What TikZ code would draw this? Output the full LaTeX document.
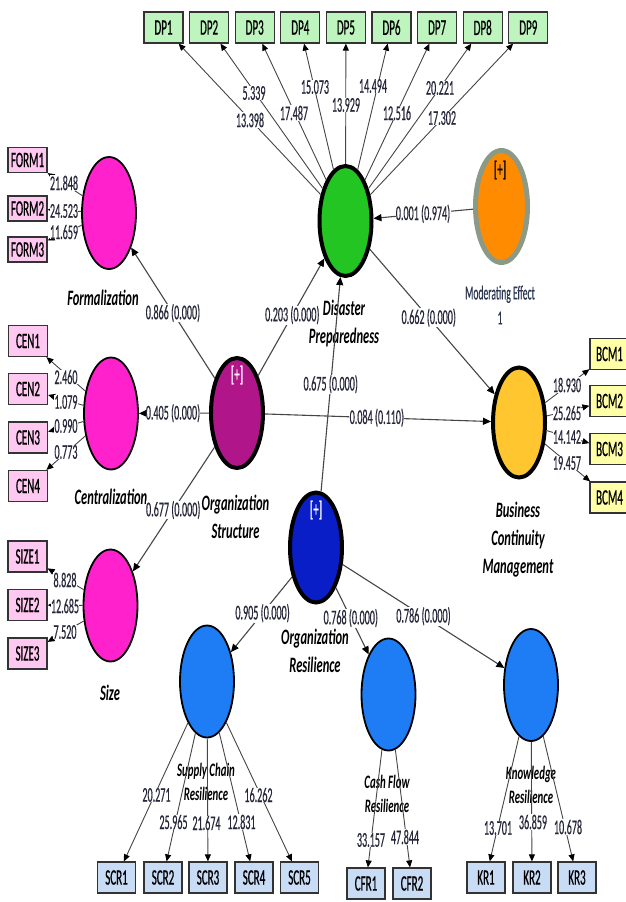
\documentclass[tikz,border=0pt]{standalone}
\usepackage{fontspec}
\usetikzlibrary{shapes.geometric,arrows.meta,calc}
\newfontfamily\lblfam{Carlito}[FakeStretch=0.48,FakeBold=0.4]
\newfontfamily\boxfam{Carlito}[FakeStretch=0.5,FakeBold=0.6]
\newfontfamily\namefam{Carlito}[FakeStretch=0.57]
\newcommand\lblf{\lblfam\fontsize{21}{23}\selectfont}
\newcommand\boxf{\boxfam\fontsize{22}{24}\selectfont}
\newcommand\namef{\namefam\bfseries\itshape\fontsize{22}{28}\selectfont}
\newcommand\smnamef{\namefam\bfseries\itshape\fontsize{19}{24}\selectfont}
\newcommand\modf{\lblfam\fontsize{20}{25}\selectfont}
\definecolor{dpgreen}{HTML}{22C522}
\definecolor{magen}{HTML}{FF22CC}
\definecolor{ospurp}{HTML}{B0168A}
\definecolor{orblue}{HTML}{0A1EC8}
\definecolor{modor}{HTML}{FF8C00}
\definecolor{modgray}{HTML}{8A9A86}
\definecolor{bcmyel}{HTML}{FFC630}
\definecolor{resblue}{HTML}{1E7DF5}
\definecolor{gbox}{HTML}{BEF5BE}
\definecolor{pbox}{HTML}{FFC8F0}
\definecolor{ybox}{HTML}{FFFFA8}
\definecolor{bbox}{HTML}{C8DCF5}
\definecolor{boxline}{HTML}{333333}
\definecolor{linec}{HTML}{454545}
\definecolor{lblc}{HTML}{26263A}
\definecolor{modtxt}{HTML}{2A3550}
\begin{document}
\begin{tikzpicture}[x=1pt,y=-1pt,
  lvthick/.style={ellipse, draw=black, line width=4pt, minimum width=52pt, minimum height=110pt, inner sep=0pt},
  lvthin/.style={ellipse, draw=black, line width=1.8pt, minimum width=54pt, minimum height=112pt, inner sep=0pt},
  ibox/.style={rectangle, draw=boxline, line width=1.2pt, minimum width=39pt, minimum height=31pt, inner sep=0pt, font=\boxf},
  lbl/.style={fill=white, inner sep=0.3pt, font=\lblf, text=lblc},
  cname/.style={font=\namef, text=black, inner sep=0pt, align=center},
  smname/.style={font=\smnamef, text=black, inner sep=0pt, align=center},
  plus/.style={font=\boxf, inner sep=0pt},
  arr/.style={draw=linec, line width=0.9pt, -{Triangle[length=7pt,width=6pt,color=black]}},
  parr/.style={draw=linec, line width=1.1pt, -{Triangle[length=8pt,width=7pt,color=black]}}
]
\useasboundingbox (0,0) rectangle (625,902);
% latent variables
\node[lvthick, fill=dpgreen] (dp) at (345.5,221) {};
\node[ellipse, draw=modgray, line width=5pt, fill=modor, minimum width=52pt, minimum height=112pt, inner sep=0pt] (mod) at (501.5,206.5) {};
\node[lvthin, fill=magen] (form) at (109,213) {};
\node[lvthin, fill=magen] (cen) at (111,413.5) {};
\node[lvthin, fill=magen] (size) at (110.5,605.5) {};
\node[lvthick, fill=ospurp] (os) at (237,413) {};
\node[lvthick, fill=orblue] (ores) at (316,547.5) {};
\node[lvthick, fill=bcmyel] (bcm) at (519,422.5) {};
\node[lvthin, fill=resblue] (scr) at (207,681.5) {};
\node[lvthin, fill=resblue] (cfr) at (388.5,694.5) {};
\node[lvthin, fill=resblue] (kr) at (531,685) {};
\node[plus, text=black] (modplus) at (500,170) {[+]};
\node[plus, text=white] (osplus) at (237,375) {[+]};
\node[plus, text=white] (orplus) at (316,510) {[+]};
% indicators
\foreach \i/\x in {1/163.5,2/209.1,3/254.7,4/300.3,5/345.9,6/391.5,7/437.1,8/482.7,9/528.3}
  \node[ibox, fill=gbox] (dp\i) at (\x,27.5) {DP\i};
\node[ibox, fill=pbox, minimum height=25pt] (form1) at (27.5,160) {FORM1};
\node[ibox, fill=pbox, minimum height=25pt] (form2) at (27.5,208.5) {FORM2};
\node[ibox, fill=pbox, minimum height=25pt] (form3) at (27.5,249.5) {FORM3};
\foreach \i/\y in {1/341,2/389,3/437.5,4/486}
  \node[ibox, fill=pbox] (cen\i) at (28,\y) {CEN\i};
\foreach \i/\y in {1/556.5,2/605,3/653.5}
  \node[ibox, fill=pbox] (size\i) at (27.5,\y) {SIZE\i};
\foreach \i/\y in {1/354,2/401,3/449,4/497.5}
  \node[ibox, fill=ybox] (bcm\i) at (609.5,\y) {BCM\i};
\foreach \i/\x in {1/116.5,2/163,3/208,4/254,5/299.5}
  \node[ibox, fill=bbox, minimum width=38pt] (scr\i) at (\x,877.5) {SCR\i};
\node[ibox, fill=bbox, minimum width=38pt] (cfr1) at (366,883.5) {CFR1};
\node[ibox, fill=bbox, minimum width=38pt] (cfr2) at (412,883.5) {CFR2};
\foreach \i/\x in {1/486,2/532,3/577}
  \node[ibox, fill=bbox, minimum width=38pt] (kr\i) at (\x,877.5) {KR\i};
% construct names
\node[cname] (nform) at (103,298) {Formalization};
\node[cname] (ncen) at (111,497) {Centralization};
\node[cname] (nsize) at (110,693) {Size};
\node[cname] (nos) at (235.5,516.5) {Organization\\Structure};
\node[cname] (ndp) at (344,324) {Disaster\\Preparedness};
\node[cname] (nbcm) at (518,540) {Business\\Continuity\\Management};
\node[cname] (nor) at (315,651) {Organization\\Resilience};
\node[smname] (nscr) at (206,782) {Supply Chain\\Resilience};
\node[smname] (ncfr) at (387,793.5) {Cash Flow\\Resilience};
\node[smname] (nkr) at (531,784.5) {Knowledge\\Resilience};
\node[font=\modf, text=modtxt, align=center, inner sep=0pt] (nmod) at (500,305) {Moderating Effect\\1};
% outer loadings
\foreach \i in {1,...,9} \draw[arr] (dp) -- (dp\i);
\foreach \i in {1,2,3} \draw[arr] (form) -- (form\i);
\foreach \i in {1,...,4} \draw[arr] (cen) -- (cen\i);
\foreach \i in {1,2,3} \draw[arr] (size) -- (size\i);
\foreach \i in {1,...,4} \draw[arr] (bcm) -- (bcm\i);
\foreach \i in {1,...,5} \draw[arr] (scr) -- (scr\i);
\foreach \i in {1,2} \draw[arr] (cfr) -- (cfr\i);
\foreach \i in {1,2,3} \draw[arr] (kr) -- (kr\i);
% structural paths
\draw[parr] (os) -- (form);
\draw[parr] (os) -- (cen);
\draw[parr] (os) -- (size);
\draw[parr] (os) -- (dp);
\draw[parr] (os) -- (bcm);
\draw[parr] (ores) -- (dp);
\draw[parr] (dp) -- (bcm);
\draw[parr] (mod) -- (dp);
\draw[parr] (ores) -- (scr);
\draw[parr] (ores) -- (cfr);
\draw[parr] (ores) -- (kr);
% path labels
\node[lbl] (p1) at ($(os)!0.5!(form)$) {0.866 (0.000)};
\node[lbl] (p2) at ($(os)!0.508!(cen)$) {0.405 (0.000)};
\node[lbl] (p3) at ($(os)!0.504!(size)$) {0.677 (0.000)};
\node[lbl] (p4) at ($(os)!0.51!(dp)$) {0.203 (0.000)};
\node[lbl] (p5) at ($(os)!0.496!(bcm)$) {0.084 (0.110)};
\node[lbl] (p6) at ($(ores)!0.5!(dp)$) {0.675 (0.000)};
\node[lbl] (p7) at ($(dp)!0.48!(bcm)$) {0.662 (0.000)};
\node[lbl] (p8) at ($(mod)!0.503!(dp)$) {0.001 (0.974)};
\node[lbl] (p9) at ($(ores)!0.49!(scr)$) {0.905 (0.000)};
\node[lbl] (p10) at ($(ores)!0.48!(cfr)$) {0.768 (0.000)};
\node[lbl] (p11) at ($(ores)!0.5!(kr)$) {0.786 (0.000)};
% loading labels
\node[lbl] (ld1) at (250,120) {13.398};
\node[lbl] (ld2) at (254,93) {5.339};
\node[lbl] (ld3) at (294,113) {17.487};
\node[lbl] (ld4) at (315,87) {15.073};
\node[lbl] (ld5) at (346,105) {13.929};
\node[lbl] (ld6) at (373,86) {14.494};
\node[lbl] (ld7) at (397,113) {12.516};
\node[lbl] (ld8) at (440,88) {20.221};
\node[lbl] (ld9) at (442,118) {17.302};
\node[lbl] (lf1) at (64,183) {21.848};
\node[lbl] (lf2) at (64,211) {24.523};
\node[lbl] (lf3) at (64,232) {11.659};
\node[lbl] (lc1) at (66,377) {2.460};
\node[lbl] (lc2) at (66,402) {1.079};
\node[lbl] (lc3) at (66,426) {0.990};
\node[lbl] (lc4) at (66,452) {0.773};
\node[lbl] (ls1) at (65,580) {8.828};
\node[lbl] (ls2) at (65,606) {12.685};
\node[lbl] (ls3) at (65,632) {7.520};
\node[lbl] (lb1) at (567,385) {18.930};
\node[lbl] (lb2) at (567,413) {25.265};
\node[lbl] (lb3) at (567,437) {14.142};
\node[lbl] (lb4) at (567,463) {19.457};
\node[lbl] (lr1) at (156.5,795) {20.271};
\node[lbl] (lr2) at (173.5,822) {25.965};
\node[lbl] (lr3) at (206.5,823) {21.674};
\node[lbl] (lr4) at (241.5,822) {12.831};
\node[lbl] (lr5) at (258.5,795) {16.262};
\node[lbl] (lcf1) at (371,840) {33.157};
\node[lbl] (lcf2) at (405,837) {47.844};
\node[lbl] (lk1) at (498,828) {13.701};
\node[lbl] (lk2) at (533,822) {36.859};
\node[lbl] (lk3) at (568,827) {10.678};
\end{tikzpicture}
\end{document}
